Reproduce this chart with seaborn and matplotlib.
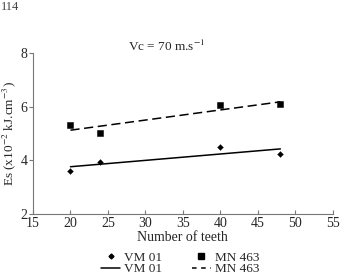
import numpy as np
import pandas as pd
import matplotlib.pyplot as plt
import seaborn as sns
from matplotlib.lines import Line2D

# Datos
dientes = [20, 24, 40, 48]
es_vm01 = [3.60, 3.95, 4.50, 4.22]
es_mn463 = [5.30, 5.00, 6.07, 6.08]

df = pd.DataFrame({
    "dientes": dientes * 2,
    "es": es_vm01 + es_mn463,
    "grupo": ["VM 01"] * 4 + ["MN 463"] * 4
})

sns.set_style("ticks")
plt.rcParams["font.family"] = ["Liberation Serif", "DejaVu Serif"]
plt.rcParams["mathtext.fontset"] = "stix"

fig = plt.figure(figsize=(3.4, 2.76), dpi=100)
ax = fig.add_axes([0.097, 0.225, 0.882, 0.583])

vm = df[df["grupo"] == "VM 01"]
mn = df[df["grupo"] == "MN 463"]

sns.scatterplot(data=vm, x="dientes", y="es", marker="D", s=9,
                color="black", edgecolor="black", ax=ax, legend=False)
sns.scatterplot(data=mn, x="dientes", y="es", marker="s", s=22,
                color="black", edgecolor="black", ax=ax, legend=False)

sns.regplot(data=vm, x="dientes", y="es", scatter=False, ci=None,
            truncate=True, color="black", line_kws={"lw": 1.1}, ax=ax)
sns.regplot(data=mn, x="dientes", y="es", scatter=False, ci=None,
            truncate=True, color="black",
            line_kws={"lw": 1.1, "ls": (0, (6, 3))}, ax=ax)

ax.set_xlim(15, 55)
ax.set_ylim(2, 8)
ax.set_xticks(range(15, 56, 5))
ax.set_yticks([2, 4, 6, 8])
ax.tick_params(axis="x", direction="in", length=3, labelsize=10, pad=2,
               color="#777777")
ax.tick_params(axis="y", direction="out", length=3, labelsize=10, pad=1,
               color="#777777")
for lado in ["left", "bottom"]:
    ax.spines[lado].set_color("#777777")
sns.despine(ax=ax)

ax.set_xlabel("Number of teeth", fontsize=10, labelpad=1)
ax.set_ylabel(r"Es (x10$^{-2}$ kJ.cm$^{-3}$)", fontsize=9.5, labelpad=2)

fig.text(0.49, 0.815, r"Vc = 70 m.s$^{-1}$", fontsize=9.5, ha="center")
fig.text(0.003, 0.998, "114", fontsize=9, va="top", color="#444444")

handles = [
    Line2D([], [], marker="D", ms=2.5, ls="none", color="black"),
    Line2D([], [], color="black", lw=1.1),
    Line2D([], [], marker="s", ms=4, ls="none", color="black"),
    Line2D([], [], color="black", lw=1.1, ls=(0, (3, 3))),
]
labels = ["VM 01", "VM 01", "MN 463", "MN 463"]
fig.legend(handles, labels, ncol=2, loc="lower center",
           bbox_to_anchor=(0.53, -0.04), frameon=False, fontsize=9.5,
           handlelength=1.5, handletextpad=0.3, columnspacing=2.2,
           labelspacing=-0.05)

fig.savefig("out.png", dpi=100)
